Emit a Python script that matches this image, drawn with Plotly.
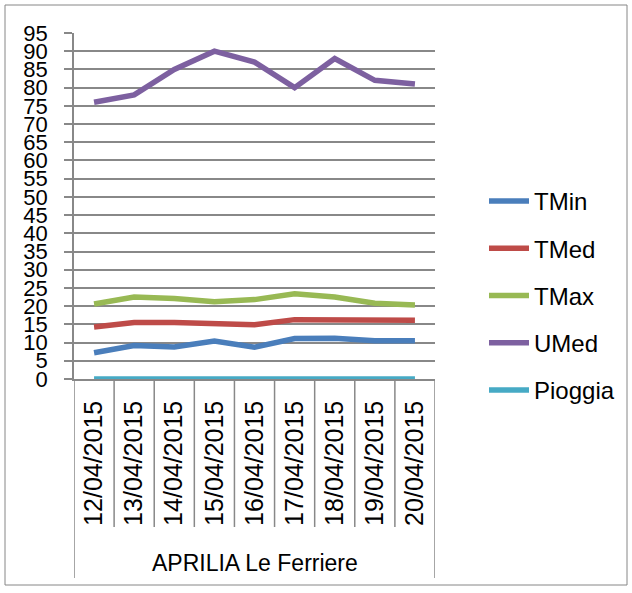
import plotly.graph_objects as go

dates = ["12/04/2015", "13/04/2015", "14/04/2015", "15/04/2015", "16/04/2015",
         "17/04/2015", "18/04/2015", "19/04/2015", "20/04/2015"]
group_label = "APRILIA Le Ferriere"
tmin = [7.2, 9.2, 8.8, 10.4, 8.7, 11.1, 11.2, 10.5, 10.5]
tmed = [14.3, 15.5, 15.5, 15.3, 14.9, 16.3, 16.2, 15.9, 16.1]
tmax = [20.6, 22.5, 22.1, 21.2, 21.8, 23.4, 22.5, 20.8, 20.3]
umed = [76, 78, 85, 90, 87, 80, 88, 82, 81]
pioggia = [0, 0, 0, 0, 0, 0, 0, 0, 0]

series = [("TMin", tmin, "#4A7EBB"), ("TMed", tmed, "#BE4B48"),
          ("TMax", tmax, "#98B954"), ("UMed", umed, "#7D60A0"),
          ("Pioggia", pioggia, "#46AAC5")]
yticks = list(range(0, 100, 5))

FONT = "Liberation Sans"
GRID = "#888888"

fig = go.Figure()
for i, (name, vals, col) in enumerate(series):
    fig.add_trace(go.Scatter(x=dates, y=vals, name=name, mode="lines",
                             line=dict(color=col, width=5.5),
                             legendgroup=f"g{i}"))

# plot area geometry (pixels) used for decoration placement
L, R, T, B = 74, 435, 33, 379
W, H = R - L, B - T
def px_x(p): return (p - L) / W
def px_y(p): return (B - p) / H

shapes = []
for i in range(len(dates) + 1):
    edge = i == 0 or i == len(dates)
    shapes.append(dict(type="line", xref="x", yref="paper",
                       x0=i - 0.5, x1=i - 0.5, y0=0,
                       y1=px_y(578) if edge else px_y(527),
                       line=dict(color=GRID, width=1.5)))
shapes.append(dict(type="rect", xref="paper", yref="paper",
                   x0=px_x(5), x1=px_x(627), y0=px_y(585), y1=px_y(5),
                   line=dict(color="#868686", width=1)))

fig.update_layout(
    width=632, height=593,
    margin=dict(l=L, r=632 - R, t=T, b=593 - B, pad=0),
    paper_bgcolor="white", plot_bgcolor="white",
    font=dict(family=FONT, color="black"),
    showlegend=True,
    legend=dict(x=px_x(484), y=px_y(179), xanchor="left", yanchor="top",
                font=dict(size=24, family=FONT), tracegroupgap=13,
                itemwidth=40, bgcolor="rgba(0,0,0,0)"),
    xaxis=dict(type="category", range=[-0.5, len(dates) - 0.5],
               showgrid=False, showline=True, linecolor=GRID, linewidth=1.5,
               ticks="", tickangle=-90, tickfont=dict(size=25, family=FONT),
               ticklabelstandoff=10, zeroline=False),
    yaxis=dict(range=[0, 95], tickvals=yticks, ticktext=[str(v) for v in yticks],
               showgrid=True, gridcolor=GRID, gridwidth=1.5,
               showline=True, linecolor=GRID, linewidth=1.5,
               ticks="outside", ticklen=8, tickcolor=GRID, tickwidth=1.5,
               tickfont=dict(size=22, family=FONT), ticklabelstandoff=12,
               zeroline=False),
    shapes=shapes,
    annotations=[dict(text=group_label, xref="paper", yref="paper",
                      x=px_x(255), y=px_y(563), xanchor="center", yanchor="middle",
                      showarrow=False, font=dict(size=23, family=FONT))],
)

fig.write_html("out.html", config={"displayModeBar": False},
               post_script="document.body.style.margin='0px';document.body.style.overflow='hidden';")
